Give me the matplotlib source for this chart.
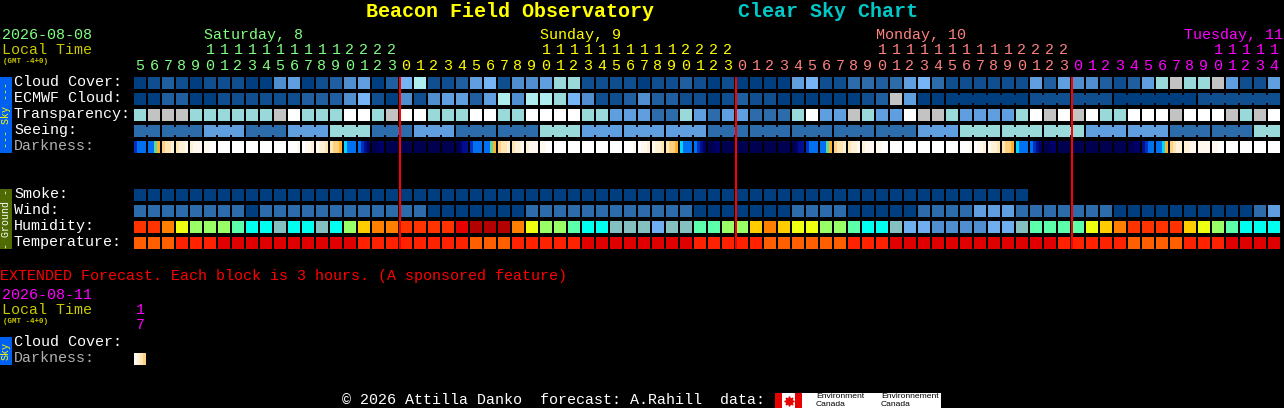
import matplotlib
matplotlib.use('Agg')
import matplotlib.pyplot as plt

# hour shown over every block, one block per hour
HOURS = [5, 6, 7, 8, 9, 10, 11, 12, 13, 14, 15, 16, 17, 18, 19, 20, 21, 22, 23,
         0, 1, 2, 3, 4, 5, 6, 7, 8, 9, 10, 11, 12, 13, 14, 15, 16, 17, 18, 19, 20, 21, 22, 23,
         0, 1, 2, 3, 4, 5, 6, 7, 8, 9, 10, 11, 12, 13, 14, 15, 16, 17, 18, 19, 20, 21, 22, 23,
         0, 1, 2, 3, 4, 5, 6, 7, 8, 9, 10, 11, 12, 13, 14]
DAY_NAMES = ['Saturday, 8', 'Sunday, 9', 'Monday, 10', 'Tuesday, 11']
DAY_LABEL_COL = [5, 29, 53, 75]
DAY_START_COL = [0, 19, 43, 67]
DAY_COLORS = ['#80ff80', '#ffff00', '#ff8080', '#ff00ff']
MIDNIGHT_COLS = [19, 43, 67]

SKY_COLORS = ['#003f7f', '#0f4f8f', '#1f5f9f', '#2c6cab', '#4f8fcf', '#5f9fdf', '#75b5f5',
              '#99d9d9', '#aeeeee', '#c3c3c3', '#ffffff']
CLOUD = [0, 1, 2, 1, 0, 1, 1, 1, 0, 0, 4, 5, 0, 1, 2, 4, 5, 0, 2, 6, 8,
         1, 1, 2, 5, 6, 1, 4, 4, 5, 7, 7, 1, 1, 1, 1, 0, 1, 1, 2, 1, 0, 1, 0, 0, 0, 0, 5, 6, 1, 1, 3,
         3, 2, 3, 5, 6, 3, 1, 1, 1, 1, 1, 1, 5, 2, 5, 4, 4, 2, 1, 2, 5, 7, 9, 7, 7, 9, 5, 1, 1, 5]
ECMWF = [0, 0, 2, 2, 0, 0, 1, 1, 1, 1, 1, 1, 2, 2, 2, 4, 6, 1, 0, 4, 1,
         4, 5, 5, 2, 5, 8, 4, 8, 8, 7, 6, 4, 1, 1, 2, 4, 2, 2, 1, 1, 0, 1, 2, 1, 1, 0, 0, 0, 0, 0, 0,
         1, 2, 9, 5, 0, 0, 0, 0, 0, 0, 0, 0, 1, 1, 1, 1, 1, 1, 0, 0, 0, 0, 0, 0, 1, 1, 1, 1, 1, 1]
ECMWF_SPANS = [6, 3, 3, 6, 6]
ECMWF_SPAN_START = 58
TRANSPARENCY = [7, 9, 9, 9, 7, 7, 7, 7, 7, 7, 9, 10, 7, 7, 7, 10, 10, 7, 9, 10, 10,
                7, 7, 7, 10, 10, 7, 7, 10, 10, 10, 10, 7, 7, 5, 5, 5, 3, 3, 7, 5, 3, 5, 5, 3, 3, 3, 7, 10, 5, 5, 9,
                7, 5, 5, 10, 9, 9, 7, 5, 5, 5, 5, 7, 10, 9, 10, 9, 10, 7, 7, 10, 10, 10, 9, 10, 10, 10, 9, 7, 9, 10]
SEEING_LEVELS = [3, 3, 5, 3, 5, 7, 3, 5, 3, 3, 7, 5, 5, 5, 3, 3, 3, 3, 3, 5, 7, 7, 7, 5, 5, 3, 3, 7]
SEEING_SPANS = [2, 3, 3, 3, 3, 3, 3, 3, 3, 3, 3, 3, 3, 3, 3, 3, 3, 3, 3, 3, 3, 3, 3, 3, 3, 3, 3, 2]
SMOKE = [0, 0, 0, 0, 0, 0, 0, 0, 0, 0, 0, 0, 0, 0, 0, 0, 0, 0, 0, 0, 0, 0, 0, 0, 0, 0, 0, 0, 0, 0, 0, 0,
         0, 0, 0, 0, 0, 0, 0, 0, 0, 0, 0, 0, 0, 0, 0, 0, 0, 0, 0, 0, 0, 0, 0, 0, 0, 0, 0, 0, 0, 0, 0, 0]
WIND = [3, 3, 3, 3, 3, 3, 3, 3, 0, 3, 3, 3, 3, 3, 3, 3, 3, 3, 3, 3, 3,
        0, 0, 0, 0, 0, 0, 0, 3, 3, 3, 3, 3, 3, 3, 3, 3, 3, 3, 3, 0, 0, 0, 0, 0, 0, 0, 3, 3, 3, 3, 0,
        0, 0, 0, 0, 3, 3, 3, 3, 5, 5, 5, 3, 3, 3, 3, 3, 3, 3, 0, 0, 0, 0, 0, 0, 0, 0, 0, 0, 3, 5]

HUMIDITY_COLORS = ['#b30000', '#e60000', '#ff3300', '#ff8000', '#ffcc00', '#eeff11', '#99ff66',
                   '#5cffaa', '#00ffee', '#85c0c0', '#6fafef', '#4f8fcf']
HUMIDITY = [2, 2, 3, 5, 6, 6, 6, 7, 8, 8, 9, 8, 8, 9, 8, 6, 4, 3, 3, 2, 2,
            2, 2, 1, 0, 0, 0, 3, 5, 6, 6, 7, 8, 8, 9, 9, 9, 10, 9, 9, 7, 7, 6, 6, 4, 3, 4, 5, 5, 6, 6, 7,
            8, 8, 9, 10, 10, 11, 11, 11, 11, 10, 10, 9, 7, 7, 7, 7, 5, 4, 3, 2, 2, 2, 2, 4, 5, 6, 7, 8, 8, 8]
TEMP_COLORS = ['#e00000', '#ff2200', '#ff5f00']
TEMPERATURE = [2, 2, 2, 1, 1, 1, 0, 0, 0, 0, 0, 0, 0, 0, 0, 0, 1, 1, 1, 1, 1,
               1, 1, 1, 2, 2, 2, 1, 1, 1, 1, 1, 0, 0, 0, 0, 0, 0, 0, 0, 1, 1, 1, 1, 1, 2, 2, 2, 2, 2, 2, 1,
               1, 1, 0, 0, 0, 0, 0, 0, 0, 0, 0, 0, 0, 0, 1, 1, 1, 1, 1, 2, 2, 2, 2, 1, 1, 1, 0, 0, 0, 0]

# darkness changes inside a block, four steps per hour
DARK_COLORS = {'n': '#000050', 'a': '#000068', 'b': '#000e90', 'c': '#0030c0', 'e': '#0070f0',
               'f': '#00d8ff', 'g': '#60d8a0', 'h': '#ffb030', 'i': '#ffd080', 'j': '#ffe4b4',
               'k': '#fff0d8', 'l': '#fff8ee', 'm': '#ffffff'}
DARKNESS = ['ceee', 'eegh', 'ijjk', 'jkkl', 'klll', 'llmm', 'mmmm', 'mmmm', 'mmmm', 'mmmm',
            'mmmm', 'mmml', 'mllk', 'lkkj', 'jiih', 'feee', 'ecba', 'nnaa', 'nnnn', 'nnnn',
            'nnnn', 'nnnn', 'nnnn', 'nabb', 'ceee', 'eegh', 'ijjk', 'jkkl', 'klll', 'llmm',
            'mmmm', 'mmmm', 'mmmm', 'mmmm', 'mmmm', 'mmml', 'mllk', 'lkkj', 'jiih', 'feee',
            'ecba', 'nnaa', 'nnnn', 'nnnn', 'nnnn', 'nnnn', 'nnnn', 'nabb', 'ceee', 'eegh',
            'ijjk', 'jkkl', 'klll', 'llmm', 'mmmm', 'mmmm', 'mmmm', 'mmmm', 'mmmm', 'mmml',
            'mllk', 'lkkj', 'jiih', 'feee', 'ecba', 'nnaa', 'nnnn', 'nnnn', 'nnnn', 'nnnn',
            'nnnn', 'nnaa', 'bcee', 'eefh', 'ijkk', 'kkll', 'llll', 'llmm', 'mmmm', 'mmmm',
            'mmmm', 'mmmm']
EXTENDED_DARKNESS = ['lkji']

ROW_LABELS = ['Cloud Cover:', 'ECMWF Cloud:', 'Transparency:', 'Seeing:', 'Darkness:']
GROUND_LABELS = ['Smoke:', 'Wind:', 'Humidity:', 'Temperature:']
TITLE = 'Beacon Field Observatory'
SUBTITLE = 'Clear Sky Chart'
EXTENDED = 'EXTENDED Forecast. Each block is 3 hours. (A sponsored feature)'
FOOTER = '\u00a9 2026 Attilla Danko  forecast: A.Rahill  data:'

MONO = 'Liberation Mono'
PX = 72 / 100  # font sizes below are in pixels


def col_x(n):
    return 134 + 14 * n


def draw_row(ax, values, colors, y):
    xs = [col_x(n) for n in range(len(values))]
    ax.bar(xs, [12] * len(values), width=12, bottom=y, align='edge',
           color=[colors[v] for v in values], linewidth=0, antialiased=False)


def draw_joints(ax, start, spans, colors, values, y):
    # blocks of one forecast step are tied together by a short bridge
    n = start
    for span in spans:
        for k in range(n, n + span - 1):
            ax.bar(col_x(k) + 12, 8, width=2, bottom=y + 2, align='edge',
                   color=colors[values[k]], linewidth=0, antialiased=False)
        n += span


def draw_darkness(ax, cells, y):
    for n, steps in enumerate(cells):
        for k, s in enumerate(steps):
            ax.bar(col_x(n) + 3 * k, 12, width=3, bottom=y, align='edge',
                   color=DARK_COLORS[s], linewidth=0, antialiased=False)


def label(ax, x, y, s, color, size=15, **kw):
    kw.setdefault('family', MONO)
    ax.text(x, y, s, color=color, fontsize=size * PX, va='center', **kw)


fig = plt.figure(figsize=(12.84, 4.08), dpi=100, facecolor='black')
ax = fig.add_axes([0, 0, 1, 1])
ax.set_xlim(0, 1284)
ax.set_ylim(408, 0)
ax.axis('off')

label(ax, 366, 11.5, TITLE, '#ffff00', size=20, weight='bold')
label(ax, 738, 11.5, SUBTITLE, '#00c8c8', size=20, weight='bold')

label(ax, 2, 35, '2026-08-08', DAY_COLORS[0])
label(ax, 2, 50, 'Local Time', '#c8c800')
label(ax, 3, 61.5, '(GMT -4+0)', '#c8c800', size=7.5, weight='bold')

for name, col, color in zip(DAY_NAMES, DAY_LABEL_COL, DAY_COLORS):
    label(ax, col_x(col), 35, name, color)

for n, hour in enumerate(HOURS):
    day = sum(n >= s for s in DAY_START_COL) - 1
    if hour >= 10:
        label(ax, col_x(n) + 6, 50, str(hour // 10), DAY_COLORS[day], ha='center')
    label(ax, col_x(n) + 6, 65.5, str(hour % 10), DAY_COLORS[day], ha='center')

# side bars
ax.bar(0, 76, width=12, bottom=77, align='edge', color='#0060f0', linewidth=0)
ax.bar(0, 60, width=12, bottom=189, align='edge', color='#4f6a00', linewidth=0)
ax.bar(0, 28, width=12, bottom=337, align='edge', color='#0060f0', linewidth=0)
label(ax, 6, 115, '--- Sky ---', '#ffff00', size=10, rotation=90, ha='center', rotation_mode='anchor')
label(ax, 6, 219, '- Ground -', '#ffffff', size=10, rotation=90, ha='center', rotation_mode='anchor')
label(ax, 6, 351, 'Sky', '#ffff00', size=10, rotation=90, ha='center', rotation_mode='anchor')

for i, s in enumerate(ROW_LABELS):
    label(ax, 14, 82 + 16 * i, s, '#b0b0b0' if s == 'Darkness:' else '#ffffff')
for i, s in enumerate(GROUND_LABELS):
    label(ax, 14, 194 + 16 * i, s, '#ffffff')

draw_row(ax, CLOUD, SKY_COLORS, 77)
draw_row(ax, ECMWF, SKY_COLORS, 93)
draw_joints(ax, ECMWF_SPAN_START, ECMWF_SPANS, SKY_COLORS, ECMWF, 93)
draw_row(ax, TRANSPARENCY, SKY_COLORS, 109)

seeing = []
for level, span in zip(SEEING_LEVELS, SEEING_SPANS):
    seeing += [level] * span
draw_row(ax, seeing, SKY_COLORS, 125)
draw_joints(ax, 0, SEEING_SPANS, SKY_COLORS, seeing, 125)
draw_darkness(ax, DARKNESS, 141)

draw_row(ax, SMOKE, SKY_COLORS, 189)
draw_row(ax, WIND, SKY_COLORS, 205)
draw_row(ax, HUMIDITY, HUMIDITY_COLORS, 221)
draw_row(ax, TEMPERATURE, TEMP_COLORS, 237)

lines = ax.vlines([col_x(c) for c in MIDNIGHT_COLS], 77, 249, color='#ff0000',
                  linewidth=2 * PX, zorder=3)
lines.set_snap(False)

# extended forecast
label(ax, 0, 276, EXTENDED, '#ff0000')
label(ax, 2, 295, '2026-08-11', '#ff00ff')
label(ax, 2, 310, 'Local Time', '#c8c800')
label(ax, 3, 321.5, '(GMT -4+0)', '#c8c800', size=7.5, weight='bold')
label(ax, 140, 310, '1', '#ff00ff', ha='center')
label(ax, 140, 325, '7', '#ff00ff', ha='center')
label(ax, 14, 342, ROW_LABELS[0], '#ffffff')
label(ax, 14, 358, ROW_LABELS[4], '#b0b0b0')
draw_darkness(ax, EXTENDED_DARKNESS, 353)

# footer with the data credit
label(ax, 342, 400, FOOTER, '#ffffff')
ax.bar(775, 15, width=166, bottom=393, align='edge', color='#ffffff', linewidth=0)
ax.bar(775, 15, width=7, bottom=393, align='edge', color='#e60000', linewidth=0)
ax.bar(795, 15, width=7, bottom=393, align='edge', color='#e60000', linewidth=0)
ax.plot([788.5], [400.5], marker=(8, 1, 0), markersize=7, color='#e60000', linewidth=0)
for x, word in zip([816, 881], ['Environment', 'Environnement']):
    ax.text(x, 396.5, word, color='black', fontsize=8.5 * PX, va='center', family='Liberation Sans')
    ax.text(x, 404.5, 'Canada', color='black', fontsize=8.5 * PX, va='center', family='Liberation Sans')

fig.savefig('out.png', dpi=100, facecolor='black')
